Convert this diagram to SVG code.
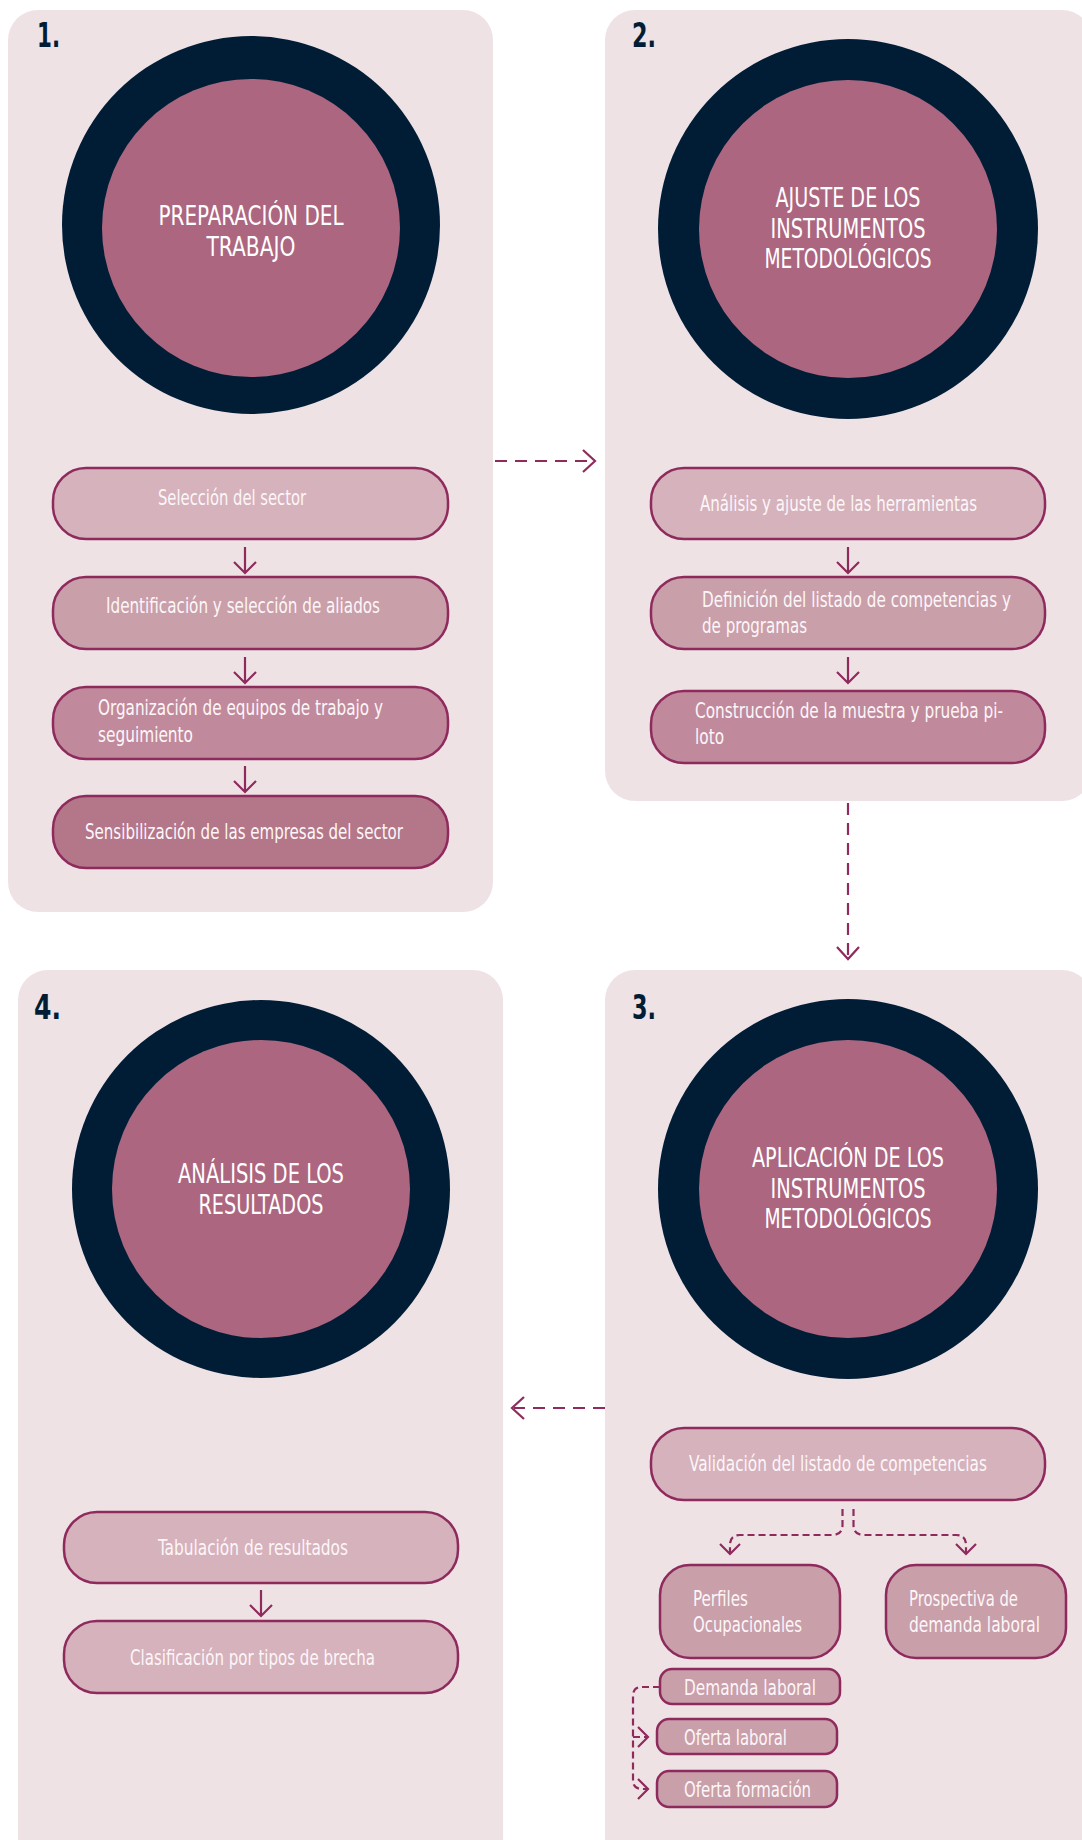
<svg xmlns="http://www.w3.org/2000/svg" width="1082" height="1840" viewBox="0 0 1082 1840">
<style>
.panel{fill:#eee2e5}
.ring{fill:#011d36}
.core{fill:#ac6680}
.box{stroke:#8f2a5d;stroke-width:2.5}
.f1{fill:#d5b2bc}.f2{fill:#c99faa}.f3{fill:#c08a9c}.f4{fill:#b37789}
.t{font-family:"Liberation Sans Narrow","DejaVu Sans Condensed","Liberation Sans",sans-serif;font-size:21px;fill:#fdf6f8}
.h{font-family:"Liberation Sans Narrow","DejaVu Sans Condensed","Liberation Sans",sans-serif;font-size:26px;fill:#ffffff;text-anchor:middle}
.n{font-family:"Liberation Sans Narrow","DejaVu Sans Condensed","Liberation Sans",sans-serif;font-size:34px;font-weight:bold;fill:#011d36}
.c{fill:none;stroke:#8f2a5d;stroke-width:2.2;stroke-linecap:butt;stroke-linejoin:miter}
.d{stroke-dasharray:12 8}
.ds{stroke-dasharray:7 4}
</style>
<rect width="1082" height="1840" fill="#ffffff"/>

<g id="panel1">
<rect class="panel" x="8" y="10" width="485" height="902" rx="30"/>
<text class="n" x="37" y="47" textLength="23" lengthAdjust="spacingAndGlyphs">1.</text>
<circle class="ring" cx="251" cy="225" r="189"/>
<circle class="core" cx="251" cy="228" r="149"/>
<text class="h" x="251" y="225" textLength="185" lengthAdjust="spacingAndGlyphs">PREPARACIÓN DEL</text>
<text class="h" x="251" y="255.5" textLength="89" lengthAdjust="spacingAndGlyphs">TRABAJO</text>
</g>
<g id="n1a"><rect class="box f1" x="53" y="468" width="395" height="71" rx="33"/><text class="t" x="158" y="505" textLength="148" lengthAdjust="spacingAndGlyphs">Selección del sector</text></g>
<g id="n1b"><rect class="box f2" x="53" y="577" width="395" height="72" rx="33"/><text class="t" x="106" y="613" textLength="274" lengthAdjust="spacingAndGlyphs">Identificación y selección de aliados</text></g>
<g id="n1c"><rect class="box f3" x="53" y="687" width="395" height="72" rx="33"/><text class="t" x="98" y="715" textLength="285" lengthAdjust="spacingAndGlyphs">Organización de equipos de trabajo y</text><text class="t" x="98" y="742" textLength="95" lengthAdjust="spacingAndGlyphs">seguimiento</text></g>
<g id="n1d"><rect class="box f4" x="53" y="796" width="395" height="72" rx="33"/><text class="t" x="85" y="839" textLength="318" lengthAdjust="spacingAndGlyphs">Sensibilización de las empresas del sector</text></g>

<g id="panel2">
<rect class="panel" x="605" y="10" width="487" height="791" rx="30"/>
<text class="n" x="632" y="47" textLength="24" lengthAdjust="spacingAndGlyphs">2.</text>
<circle class="ring" cx="848" cy="229" r="190"/>
<circle class="core" cx="848" cy="229" r="149"/>
<text class="h" x="848" y="207" textLength="145" lengthAdjust="spacingAndGlyphs">AJUSTE DE LOS</text>
<text class="h" x="848" y="237.5" textLength="155" lengthAdjust="spacingAndGlyphs">INSTRUMENTOS</text>
<text class="h" x="848" y="268" textLength="167" lengthAdjust="spacingAndGlyphs">METODOLÓGICOS</text>
</g>
<g id="n2a"><rect class="box f1" x="651" y="468" width="394" height="71" rx="33"/><text class="t" x="700" y="511" textLength="277" lengthAdjust="spacingAndGlyphs">Análisis y ajuste de las herramientas</text></g>
<g id="n2b"><rect class="box f2" x="651" y="577" width="394" height="72" rx="33"/><text class="t" x="702" y="607" textLength="309" lengthAdjust="spacingAndGlyphs">Definición del listado de competencias y</text><text class="t" x="702" y="633" textLength="105" lengthAdjust="spacingAndGlyphs">de programas</text></g>
<g id="n2c"><rect class="box f3" x="651" y="691" width="394" height="72" rx="33"/><text class="t" x="695" y="718" textLength="308" lengthAdjust="spacingAndGlyphs">Construcción de la muestra y prueba pi-</text><text class="t" x="695" y="744" textLength="29" lengthAdjust="spacingAndGlyphs">loto</text></g>

<g id="panel3">
<rect class="panel" x="605" y="970" width="487" height="900" rx="30"/>
<text class="n" x="632" y="1019" textLength="24" lengthAdjust="spacingAndGlyphs">3.</text>
<circle class="ring" cx="848" cy="1189" r="190"/>
<circle class="core" cx="848" cy="1189" r="149"/>
<text class="h" x="848" y="1167" textLength="192" lengthAdjust="spacingAndGlyphs">APLICACIÓN DE LOS</text>
<text class="h" x="848" y="1197.5" textLength="155" lengthAdjust="spacingAndGlyphs">INSTRUMENTOS</text>
<text class="h" x="848" y="1228" textLength="167" lengthAdjust="spacingAndGlyphs">METODOLÓGICOS</text>
</g>
<g id="n3a"><rect class="box f1" x="651" y="1428" width="394" height="72" rx="33"/><text class="t" x="689" y="1471" textLength="298" lengthAdjust="spacingAndGlyphs">Validación del listado de competencias</text></g>
<g id="n3b"><rect class="box f2" x="660" y="1565" width="180" height="93" rx="30"/><text class="t" x="693" y="1606" textLength="55" lengthAdjust="spacingAndGlyphs">Perfiles</text><text class="t" x="693" y="1632" textLength="109" lengthAdjust="spacingAndGlyphs">Ocupacionales</text></g>
<g id="n3c"><rect class="box f2" x="886" y="1565" width="180" height="93" rx="30"/><text class="t" x="909" y="1606" textLength="109" lengthAdjust="spacingAndGlyphs">Prospectiva de</text><text class="t" x="909" y="1632" textLength="131" lengthAdjust="spacingAndGlyphs">demanda laboral</text></g>
<g id="n3d"><rect class="box f2" x="660" y="1669" width="180" height="35" rx="12"/><text class="t" x="684" y="1695" textLength="132" lengthAdjust="spacingAndGlyphs">Demanda laboral</text></g>
<g id="n3e"><rect class="box f2" x="657" y="1719" width="180" height="35" rx="12"/><text class="t" x="684" y="1745" textLength="103" lengthAdjust="spacingAndGlyphs">Oferta laboral</text></g>
<g id="n3f"><rect class="box f2" x="657" y="1771" width="180" height="36" rx="12"/><text class="t" x="684" y="1797" textLength="127" lengthAdjust="spacingAndGlyphs">Oferta formación</text></g>

<g id="panel4">
<rect class="panel" x="18" y="970" width="485" height="900" rx="30"/>
<text class="n" x="34" y="1019" textLength="27" lengthAdjust="spacingAndGlyphs">4.</text>
<circle class="ring" cx="261" cy="1189" r="189"/>
<circle class="core" cx="261" cy="1189" r="149"/>
<text class="h" x="261" y="1183" textLength="166" lengthAdjust="spacingAndGlyphs">ANÁLISIS DE LOS</text>
<text class="h" x="261" y="1213.5" textLength="125" lengthAdjust="spacingAndGlyphs">RESULTADOS</text>
</g>
<g id="n4a"><rect class="box f1" x="64" y="1512" width="394" height="71" rx="33"/><text class="t" x="158" y="1555" textLength="190" lengthAdjust="spacingAndGlyphs">Tabulación de resultados</text></g>
<g id="n4b"><rect class="box f1" x="64" y="1621" width="394" height="72" rx="33"/><text class="t" x="130" y="1665" textLength="245" lengthAdjust="spacingAndGlyphs">Clasificación por tipos de brecha</text></g>

<g id="connectors">
<path class="c" d="M245,547 V573 M234,562 L245,573 L256,562"/>
<path class="c" d="M245,657 V683 M234,672 L245,683 L256,672"/>
<path class="c" d="M245,766 V792 M234,781 L245,792 L256,781"/>
<path class="c" d="M848,547 V573 M837,562 L848,573 L859,562"/>
<path class="c" d="M848,657 V683 M837,672 L848,683 L859,672"/>
<path class="c" d="M261,1590 V1616 M250,1605 L261,1616 L272,1605"/>
<path class="c d" d="M495,461 H594"/>
<path class="c" d="M583,450 L595,461 L583,472"/>
<path class="c d" d="M848,803 V958"/>
<path class="c" d="M837,947 L848,959 L859,947"/>
<path class="c d" d="M605,1408 H514"/>
<path class="c" d="M524,1397 L512,1408 L524,1419"/>
<path class="c ds" d="M842.5,1509 V1525 Q842.5,1535 832,1535 H740 Q730,1535 730,1545 V1553"/>
<path class="c" d="M720,1544 L730,1554 L740,1544"/>
<path class="c ds" d="M853.5,1509 V1525 Q853.5,1535 864,1535 H956 Q966,1535 966,1545 V1553"/>
<path class="c" d="M956,1544 L966,1554 L976,1544"/>
<path class="c ds" d="M660,1687 H642 Q633,1687 633,1696 V1780 Q633,1789 642,1789 H648 M633,1737 H648"/>
<path class="c" d="M638,1727 L648,1737 L638,1747 M638,1779 L648,1789 L638,1799"/>
</g>
</svg>
